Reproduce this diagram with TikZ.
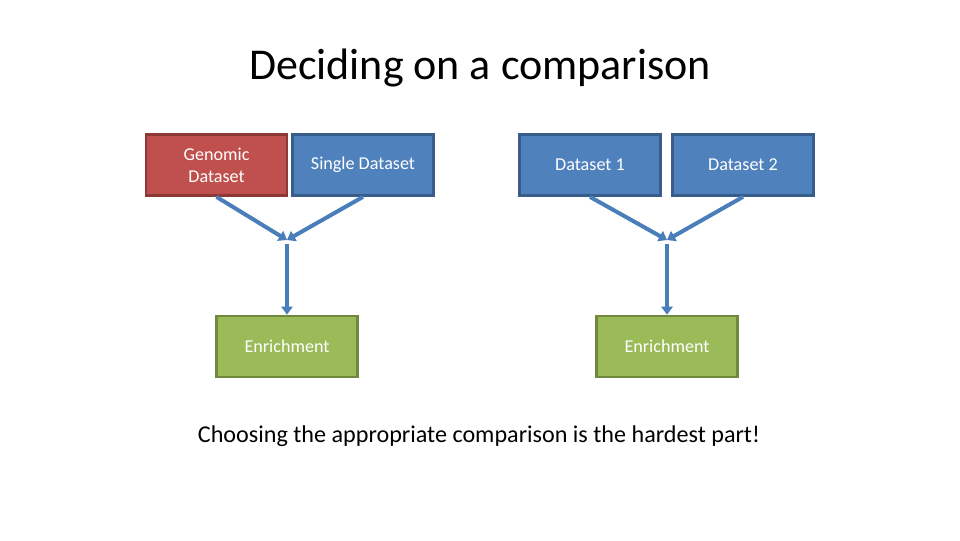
\documentclass[tikz,border=0pt]{standalone}
\usepackage{fontspec}
\setmainfont{Carlito}
\usetikzlibrary{arrows.meta}
\definecolor{redfill}{HTML}{C0504D}
\definecolor{redline}{HTML}{8C3836}
\definecolor{bluefill}{HTML}{4F81BD}
\definecolor{blueline}{HTML}{385D8A}
\definecolor{greenfill}{HTML}{9BBB59}
\definecolor{greenline}{HTML}{71893F}
\definecolor{arrowcol}{HTML}{4A7EBB}
\tikzset{
  box/.style={draw, line width=1.8pt, minimum width=106pt, minimum height=46pt, inner sep=0pt, text=white, font=\fontsize{13.6pt}{16.5pt}\selectfont, align=center},
  redbox/.style={box, fill=redfill, draw=redline},
  bluebox/.style={box, fill=bluefill, draw=blueline},
  greenbox/.style={box, fill=greenfill, draw=greenline},
  conn/.style={draw=arrowcol, line width=3pt, -{Triangle[length=6pt,width=8.5pt]}}
}
\begin{document}
\begin{tikzpicture}[x=0.75pt,y=-0.75pt]
\useasboundingbox[fill=white] (0,0) rectangle (960,540);
\node (title) at (480,68) {\fontsize{33pt}{39pt}\selectfont Deciding on a comparison};
% left group
\node[redbox] (gen) at (216.5,165) {Genomic\\Dataset};
\node[bluebox] (single) at (363,165) {Single Dataset};
\coordinate (m1) at (287,240);
\coordinate (m1b) at (287,244);
\node[greenbox] (enr1) at (287,346.5) {Enrichment};
\draw[conn] (gen.south) -- (m1);
\draw[conn] (single.south) -- (m1);
\draw[conn] (m1b) -- (enr1.north);
% right group
\node[bluebox] (d1) at (590,165) {Dataset 1};
\node[bluebox] (d2) at (743,165) {Dataset 2};
\coordinate (m2) at (667,240);
\coordinate (m2b) at (667,244);
\node[greenbox] (enr2) at (667,346.5) {Enrichment};
\draw[conn] (d1.south) -- (m2);
\draw[conn] (d2.south) -- (m2);
\draw[conn] (m2b) -- (enr2.north);
\node (cap) at (479,436) {\fontsize{18.1pt}{22pt}\selectfont Choosing the appropriate comparison is the hardest part!};
\end{tikzpicture}
\end{document}
